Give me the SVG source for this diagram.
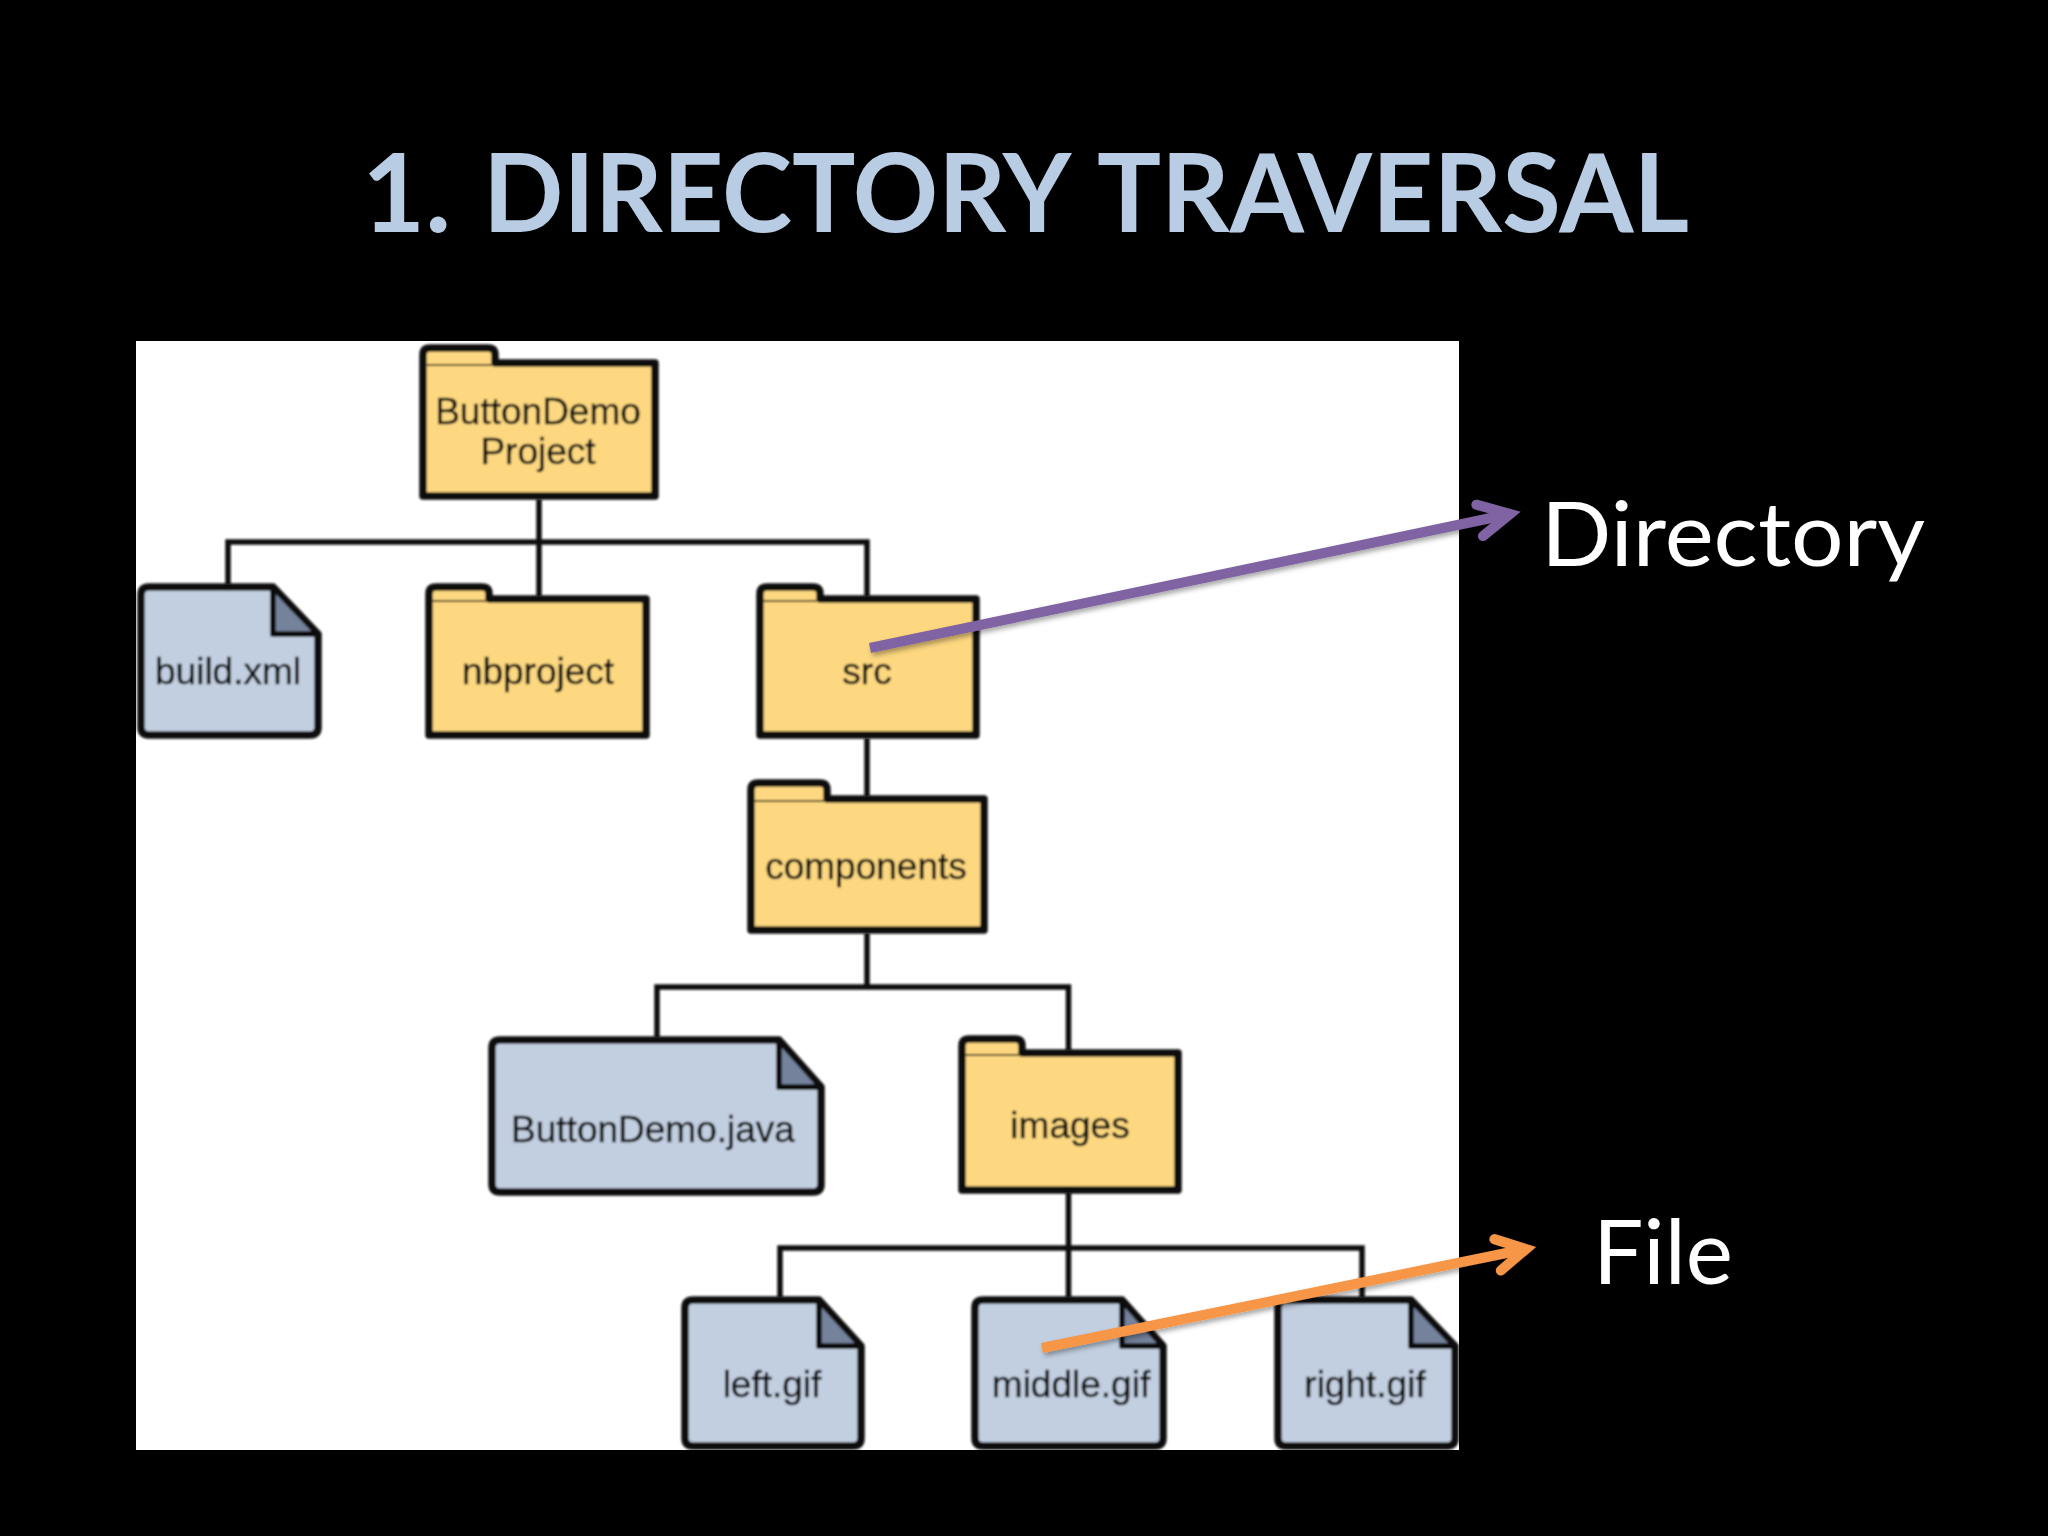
<svg xmlns="http://www.w3.org/2000/svg" width="2048" height="1536" viewBox="0 0 2048 1536">
<style>
.title{font-family:"Lato","Liberation Sans",sans-serif;font-weight:700;font-size:110px;fill:#b8cce4}
.lab{font-family:"Lato","Liberation Sans",sans-serif;font-size:90px;fill:#fff}
.t{font-family:"Liberation Sans",Arial,sans-serif;font-size:37px;fill:#111;stroke:#111;stroke-width:0.5;text-anchor:middle}
.folder{fill:#fdd880;stroke:#0c0c0c;stroke-width:7.500;stroke-linejoin:round}
.div{stroke:#4a4020;stroke-width:2;fill:none}
.file{fill:#c2cfe1;stroke:#0c0c0c;stroke-width:7.500;stroke-linejoin:round}
.fold{fill:#74829c;stroke:#0c0c0c;stroke-width:6;stroke-linejoin:round}
.edge{stroke:#111;stroke-width:5.500;fill:none}
.arrow{stroke-width:10;fill:none}
</style>
<defs>
<filter id="soft" x="-5%" y="-5%" width="110%" height="110%"><feGaussianBlur stdDeviation="0.8"/></filter>
<filter id="shadow" x="-5%" y="-30%" width="110%" height="160%"><feDropShadow dx="2" dy="3" stdDeviation="2.500" flood-color="#000" flood-opacity="0.35"/></filter>
<marker id="headP" markerUnits="userSpaceOnUse" markerWidth="60" markerHeight="60" viewBox="-45 -30 60 60" refX="0" refY="0" orient="auto"><path d="M-31,-16 L0,0 L-31,16" fill="none" stroke="#8064a2" stroke-width="10" stroke-linecap="round" stroke-linejoin="miter"/></marker>
<marker id="headO" markerUnits="userSpaceOnUse" markerWidth="60" markerHeight="60" viewBox="-45 -30 60 60" refX="0" refY="0" orient="auto"><path d="M-29,-16 L0,0 L-29,16" fill="none" stroke="#f79646" stroke-width="10" stroke-linecap="round" stroke-linejoin="miter"/></marker>
</defs>
<rect width="2048" height="1536" fill="#000"/>
<text class="title" y="232"><tspan x="362" y="232" textLength="89" lengthAdjust="spacingAndGlyphs">1.</tspan> <tspan x="483" y="232" textLength="584" lengthAdjust="spacingAndGlyphs">DIRECTORY</tspan> <tspan x="1097" y="232" textLength="592" lengthAdjust="spacingAndGlyphs">TRAVERSAL</tspan></text>
<rect id="panel" x="136" y="341" width="1323" height="1109" fill="#fff"/>
<g filter="url(#soft)">
<g id="node-buttondemo"><path class="folder" d="M423,496V355Q423,348 430,348H488Q495,348 495,355V363H655V496Z"/><path class="div" d="M426,365H493"/><text class="t" x="538" y="424">ButtonDemo</text><text class="t" x="538" y="464">Project</text></g>
<g id="node-buildxml"><path class="file" d="M149,587H273L318,634V727Q318,735 310,735H149Q141,735 141,727V595Q141,587 149,587Z"/><path class="fold" d="M273,587L318,634H273Z"/><text class="t" x="228" y="684">build.xml</text></g>
<g id="node-nbproject"><path class="folder" d="M429,735V594Q429,587 436,587H482Q489,587 489,594V599H646V735Z"/><path class="div" d="M432,601H487"/><text class="t" x="538" y="684">nbproject</text></g>
<g id="node-src"><path class="folder" d="M760,735V594Q760,587 767,587H813Q820,587 820,594V599H976V735Z"/><path class="div" d="M763,601H818"/><text class="t" x="867" y="684">src</text></g>
<g id="node-components"><path class="folder" d="M751,930V790Q751,783 758,783H820Q827,783 827,790V799H984V930Z"/><path class="div" d="M754,801H825"/><text class="t" x="866" y="879">components</text></g>
<g id="node-buttondemojava"><path class="file" d="M500,1040H779L821,1087V1184Q821,1192 813,1192H500Q492,1192 492,1184V1048Q492,1040 500,1040Z"/><path class="fold" d="M779,1040L821,1087H779Z"/><text class="t" x="653" y="1142">ButtonDemo.java</text></g>
<g id="node-images"><path class="folder" d="M962,1190V1046Q962,1039 969,1039H1015Q1022,1039 1022,1046V1053H1178V1190Z"/><path class="div" d="M965,1055H1020"/><text class="t" x="1070" y="1138">images</text></g>
<g id="node-leftgif"><path class="file" d="M693,1300H819L861,1346V1438Q861,1446 853,1446H693Q685,1446 685,1438V1308Q685,1300 693,1300Z"/><path class="fold" d="M819,1300L861,1346H819Z"/><text class="t" x="772" y="1397">left.gif</text></g>
<g id="node-middlegif"><path class="file" d="M983,1300H1122L1163,1346V1438Q1163,1446 1155,1446H983Q975,1446 975,1438V1308Q975,1300 983,1300Z"/><path class="fold" d="M1122,1300L1163,1346H1122Z"/><text class="t" x="1071" y="1397">middle.gif</text></g>
<g id="node-rightgif"><path class="file" d="M1286,1300H1411L1455,1346V1438Q1455,1446 1447,1446H1286Q1278,1446 1278,1438V1308Q1278,1300 1286,1300Z"/><path class="fold" d="M1411,1300L1455,1346H1411Z"/><text class="t" x="1365" y="1397">right.gif</text></g>
</g>
<g id="connectors">
<g filter="url(#soft)">
<path class="edge" d="M539,499V597M228,585V542H867V585M867,542V597"/>
<path class="edge" d="M867,738V797"/>
<path class="edge" d="M867,933V987M657,1038V987H1068.500V1051"/>
<path class="edge" d="M1068.500,1192V1298M780,1298V1248H1362V1298"/>
</g>
<path class="arrow" filter="url(#shadow)" stroke="#8064a2" marker-end="url(#headP)" d="M870,648L1510,514"/>
<path class="arrow" filter="url(#shadow)" stroke="#f79646" marker-end="url(#headO)" d="M1042,1348L1526,1249"/>
</g>
<text class="lab" x="1541" y="566" textLength="384" lengthAdjust="spacingAndGlyphs">Directory</text>
<text class="lab" x="1593" y="1284" textLength="140" lengthAdjust="spacingAndGlyphs">File</text>
</svg>
